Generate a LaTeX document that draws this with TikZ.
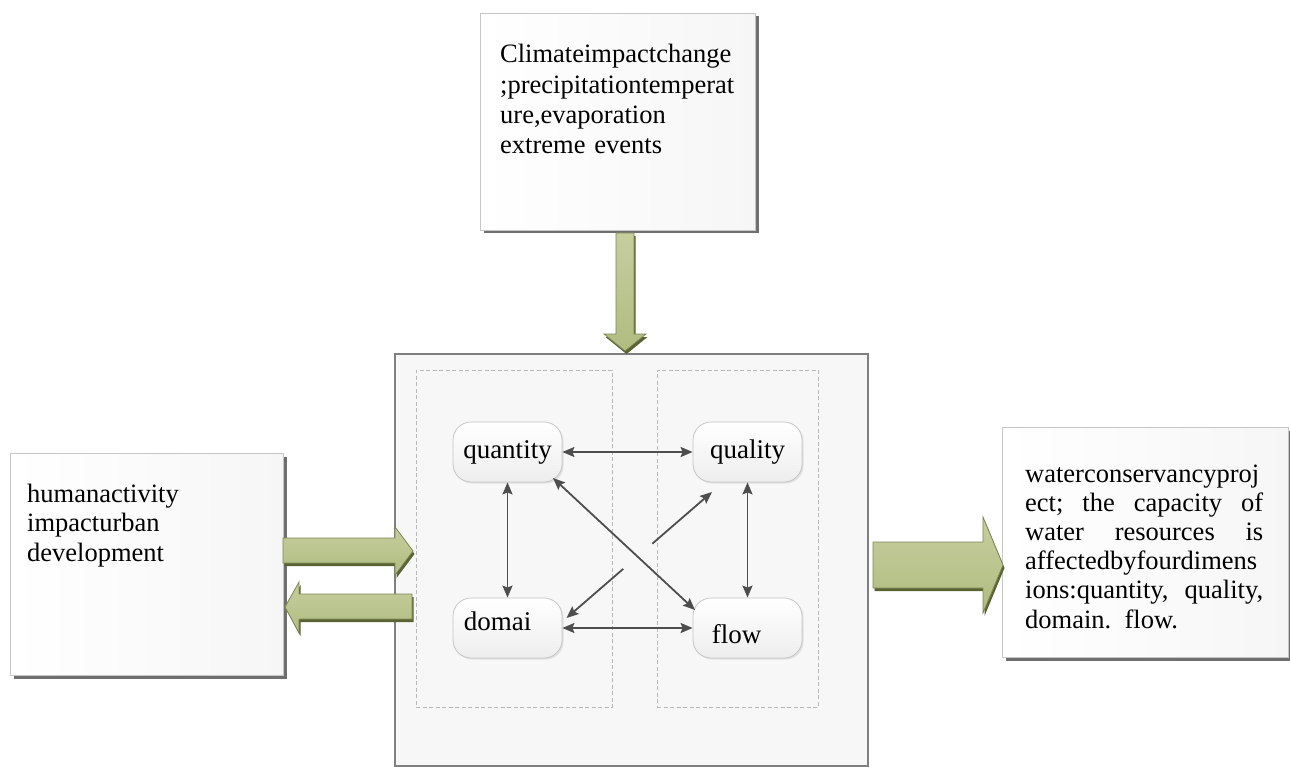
\documentclass[tikz,border=0pt]{standalone}
\usepackage{fontspec}
\setmainfont{Liberation Serif}
\newfontfamily\tnr{Liberation Serif}
\usetikzlibrary{shadows,calc,arrows.meta}
\definecolor{gfill}{RGB}{176,188,128}
\definecolor{glight}{RGB}{198,206,158}
\definecolor{gdark}{RGB}{88,98,50}
\definecolor{gedge}{RGB}{125,135,85}
\definecolor{arr}{RGB}{78,78,78}
\begin{document}
\begin{tikzpicture}[x=1pt,y=-1pt,
  outerbox/.style={draw=gray!45, line width=1pt, left color=white, right color=gray!7,
    drop shadow={shadow xshift=3pt,shadow yshift=-3pt,fill=black!70,opacity=0.8},
    inner sep=0pt, anchor=north west},
  txt/.style={font=\tnr\fontsize{26.5}{30}\selectfont, inner sep=0pt, align=left, anchor=base west},
  nd/.style={rounded corners=18pt, draw=gray!45, line width=0.8pt, top color=white, bottom color=gray!14,
    minimum width=109pt, minimum height=60pt, inner sep=0pt,
    font=\tnr\fontsize{27}{30}\selectfont,
    drop shadow={shadow xshift=1.5pt,shadow yshift=-1.5pt,opacity=0.2}},
  dashbox/.style={draw=gray!55, line width=0.8pt, dash pattern=on 4pt off 2.5pt, inner sep=0pt, anchor=north west},
  tipb/.tip={Stealth[length=12pt,width=10pt,inset=2pt]},
  conn/.style={draw=arr, line width=1.8pt, tipb-tipb},
  connl/.style={draw=arr, line width=1.8pt, tipb-},
  connr/.style={draw=arr, line width=1.8pt, -tipb},
  garrow/.style={top color=glight, bottom color=gfill, draw=gedge, line width=0.8pt,
    drop shadow={shadow xshift=1.5pt,shadow yshift=-3pt,fill=gdark,opacity=1}}
]
\useasboundingbox (0,0) rectangle (1290,767);
\fill[white] (0,0) rectangle (1290,767);

% main box
\node[draw=black!50, line width=1.5pt, fill=gray!6, inner sep=0pt, anchor=north west,
  minimum width=473pt, minimum height=412pt] (mainbox) at (394,353) {};
\node[dashbox, minimum width=196pt, minimum height=337pt] (dleft) at (416,370) {};
\node[dashbox, minimum width=161pt, minimum height=337pt] (dright) at (657,370) {};

% outer boxes
\node[outerbox, minimum width=275pt, minimum height=217pt] (topbox) at (480,13) {};
\node[txt, text width=245pt] (toptext) at ($(topbox.north west)+(20,50)$)
  {\fontsize{26.5}{30.5}\selectfont Climateimpactchange\\;precipitationtemperat\\ure,evaporation\\extreme events};

\node[outerbox, minimum width=273pt, minimum height=222pt] (leftbox) at (10,453) {};
\node[txt, text width=240pt] (lefttext) at ($(leftbox.north west)+(17,49)$)
  {\fontsize{26.5}{29}\selectfont humanactivity\\impacturban\\development};

\node[outerbox, minimum width=286pt, minimum height=230pt] (rightbox) at (1002,427) {};
\node[txt, text width=238pt] (righttext) at ($(rightbox.north west)+(23,55)$)
  {\fontsize{26.5}{29}\selectfont waterconservancyproj\\
   \makebox[238pt][l]{ect;\hfill the\hfill capacity\hfill of}\\
   \makebox[238pt][l]{water\hfill resources\hfill is}\\
   affectedbyfourdimens\\
   \makebox[238pt][l]{ions:quantity,\hfill quality,}\\
   domain. flow.};

% green block arrows
\path[garrow] (616,233) -- (634,233) -- (634,334) -- (646,334) -- (625,351) -- (604,334) -- (616,334) -- cycle;
\path[garrow] (283,538) -- (395,538) -- (395,527) -- (413,551) -- (395,575) -- (395,563) -- (283,563) -- cycle;
\path[garrow] (412,594) -- (299,594) -- (299,582) -- (285,607) -- (299,633) -- (299,619) -- (412,619) -- cycle;
\path[garrow] (873,542) -- (983,542) -- (983,517) -- (1003,565) -- (983,613) -- (983,588) -- (873,588) -- cycle;

% inner nodes
\node[nd] (quantity) at (507.5,452) {quantity};
\node[nd] (quality) at (747.5,452) {quality};
\node[nd, text height=17pt, text depth=13pt] (domai) at (507.5,628) {domai\hspace*{20pt}};
\node[nd, text height=30pt, text depth=0pt] (flow) at (747.5,628) {flow\hspace*{22pt}};

% connectors
\draw[conn] (quantity) -- (quality);
\draw[conn] (quantity) -- (domai);
\draw[conn] (quality) -- (flow);
\draw[conn] (domai) -- (flow);

\coordinate (q1) at ($(quantity.center)+(45.5,26)$);
\coordinate (f1) at ($(flow.center)+(-52.5,-18)$);
\draw[conn] (q1) -- (f1);

\coordinate (d1) at ($(domai.center)+(59,-10)$);
\coordinate (l1) at ($(quality.center)+(-35.5,40)$);
\coordinate (g1) at ($(d1)!0.39!(l1)$);
\coordinate (g2) at ($(d1)!0.59!(l1)$);
\draw[connl] (d1) -- (g1);
\draw[connr] (g2) -- (l1);
\end{tikzpicture}
\end{document}
